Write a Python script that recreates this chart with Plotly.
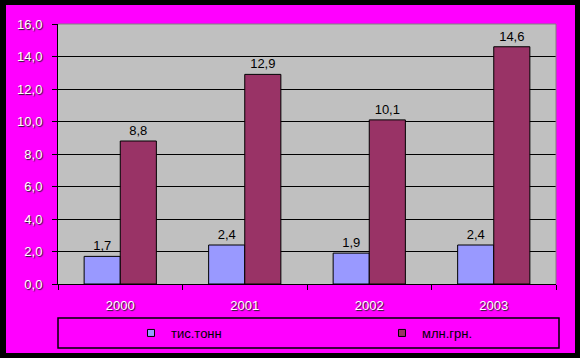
import plotly.graph_objects as go

years = ["2000", "2001", "2002", "2003"]
tonnes = [1.7, 2.4, 1.9, 2.4]        # тис.тонн
uah = [8.8, 12.9, 10.1, 14.6]        # млн.грн.
y_ticks = [0, 2, 4, 6, 8, 10, 12, 14, 16]
y_tick_labels = ["0,0", "2,0", "4,0", "6,0", "8,0", "10,0", "12,0", "14,0", "16,0"]
series_names = ["тис.тонн", "млн.грн."]
colors = ["#9999FF", "#993366"]

W, H = 580, 358
L, R, T, B = 58, 24, 24, 74
pw, ph = W - L - R, H - T - B

def px(x):
    return (x - L) / pw

def py(y):
    return (H - B - y) / ph

fmt = lambda v: f"{v:.1f}".replace(".", ",")

fig = go.Figure()
legend_ids = ["legend", "legend2"]
for name, vals, col, lg in zip(series_names, [tonnes, uah], colors, legend_ids):
    fig.add_trace(go.Bar(
        x=years, y=vals, name=name,
        marker=dict(color=col, line=dict(color="black", width=1)),
        text=[fmt(v) for v in vals], textposition="outside",
        textfont=dict(family="Liberation Sans, Arial, sans-serif", size=13, color="black"),
        cliponaxis=False, showlegend=False,
    ))
    fig.add_trace(go.Scatter(
        x=[None], y=[None], mode="markers", name=name, legend=lg,
        marker=dict(symbol="square", size=7, color=col, line=dict(color="black", width=1)),
    ))

shapes = []
# black frame around magenta background
for (x0, y0, x1, y1) in [(0, 0, 6, H), (575, 0, W, H), (0, 0, W, 5), (0, 353, W, H)]:
    shapes.append(dict(type="rect", xref="paper", yref="paper",
                       x0=px(x0), x1=px(x1), y0=py(y0), y1=py(y1),
                       fillcolor="black", line=dict(width=0), layer="above"))
# gray top/right borders of plot area
shapes.append(dict(type="line", xref="paper", yref="paper", x0=0, x1=1, y0=1, y1=1,
                   line=dict(color="#808080", width=1), layer="above"))
shapes.append(dict(type="line", xref="paper", yref="paper", x0=1, x1=1, y0=0, y1=1,
                   line=dict(color="#808080", width=1), layer="above"))
# legend box
shapes.append(dict(type="rect", xref="paper", yref="paper",
                   x0=px(58), x1=px(559), y0=py(318), y1=py(348),
                   fillcolor="rgba(0,0,0,0)", line=dict(color="black", width=1.5), layer="above"))

font_family = "Liberation Sans, Arial, sans-serif"
tickfont = dict(family=font_family, size=13, color="white", shadow="1px 1px 1px #202020")
legfont = dict(family=font_family, size=13, color="black")

fig.update_layout(
    width=W, height=H,
    margin=dict(l=L, r=R, t=T, b=B, autoexpand=False),
    paper_bgcolor="#FF00FF",
    plot_bgcolor="#C0C0C0",
    barmode="group", bargap=0.42, bargroupgap=0,
    shapes=shapes,
    showlegend=True,
    legend=dict(orientation="h", x=px(131), xanchor="left", y=py(333), yanchor="middle",
                bgcolor="rgba(0,0,0,0)", borderwidth=0, font=legfont),
    legend2=dict(orientation="h", x=px(382), xanchor="left", y=py(333), yanchor="middle",
                 bgcolor="rgba(0,0,0,0)", borderwidth=0, font=legfont),
    xaxis=dict(showline=True, linecolor="black", linewidth=1, ticks="outside",
               tickson="boundaries", ticklen=5, tickcolor="black", tickfont=tickfont,
               showgrid=False, ticklabelstandoff=9, fixedrange=True, automargin=False),
    yaxis=dict(range=[0, 16], tickvals=y_ticks, ticktext=y_tick_labels,
               showline=True, linecolor="black", linewidth=1, ticks="outside",
               ticklen=5, tickcolor="black", tickfont=tickfont,
               showgrid=True, gridcolor="black", gridwidth=1, zeroline=False,
               ticklabelstandoff=7, fixedrange=True, automargin=False),
)

fig.write_html("out.html")
